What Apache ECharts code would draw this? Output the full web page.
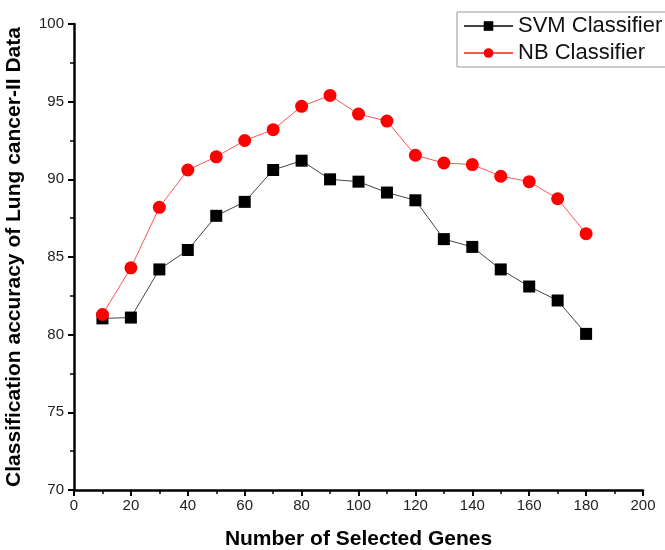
<!DOCTYPE html>
<html>
<head>
<meta charset="utf-8">
<script src="https://cdn.jsdelivr.net/npm/echarts@6/dist/echarts.min.js"></script>
<style>html,body{margin:0;padding:0;background:#fff}#c{width:665px;height:550px}</style>
</head>
<body>
<div id="c"></div>
<script>
const genes = [10,20,30,40,50,60,70,80,90,100,110,120,130,140,150,160,170,180];
const svmAcc = [81.05,81.1,84.2,85.45,87.65,88.55,90.6,91.2,90.0,89.85,89.15,88.65,86.15,85.65,84.2,83.1,82.2,80.05];
const nbAcc = [81.3,84.3,88.2,90.6,91.45,92.5,93.2,94.7,95.4,94.2,93.75,91.55,91.05,90.95,90.2,89.85,88.75,86.5];
const xTitle = 'Number of Selected Genes';
const yTitle = 'Classification accuracy of Lung cancer-II Data';

const FONT = 'Arial, Liberation Sans, sans-serif';
const chart = echarts.init(document.getElementById('c'));
const axisCommon = {
  axisLine: {show: true, onZero: false, lineStyle: {color: '#000', width: 2.5}},
  axisTick: {show: true, inside: false, length: 6, lineStyle: {color: '#000', width: 2}},
  minorTick: {show: true, splitNumber: 2, length: 4, lineStyle: {color: '#000', width: 1.5}},
  splitLine: {show: false},
  axisLabel: {color: '#222', fontSize: 15, fontFamily: FONT},
  nameTextStyle: {color: '#000', fontSize: 21, fontWeight: 'bold', fontFamily: FONT}
};
chart.setOption({
  animation: false,
  backgroundColor: '#fff',
  grid: {left: 74, right: 22, top: 24, bottom: 60, containLabel: false, outerBoundsMode: 'none'},
  legend: {
    orient: 'vertical', left: 457, top: 12,
    itemWidth: 49, itemHeight: 12, itemGap: 5,
    padding: [3, 40, 3, 6],
    borderColor: '#999', borderWidth: 1,
    textStyle: {fontSize: 22, color: '#111', fontFamily: FONT},
    data: ['SVM Classifier', 'NB Classifier']
  },
  xAxis: Object.assign({}, axisCommon, {
    type: 'value', min: 0, max: 200, interval: 20,
    name: xTitle, nameLocation: 'middle', nameGap: 39,
    axisLabel: Object.assign({}, axisCommon.axisLabel, {margin: 8})
  }),
  yAxis: Object.assign({}, axisCommon, {
    type: 'value', min: 70, max: 100, interval: 5,
    name: yTitle, nameLocation: 'middle', nameGap: 49,
    axisLabel: Object.assign({}, axisCommon.axisLabel, {margin: 10})
  }),
  series: [
    {
      name: 'SVM Classifier', type: 'line',
      data: genes.map((g, i) => [g, svmAcc[i]]),
      symbol: 'rect', symbolSize: 12,
      itemStyle: {color: '#000'},
      lineStyle: {color: '#444', width: 1}
    },
    {
      name: 'NB Classifier', type: 'line',
      data: genes.map((g, i) => [g, nbAcc[i]]),
      symbol: 'circle', symbolSize: 13,
      itemStyle: {color: '#ff0000'},
      lineStyle: {color: '#f55', width: 1}
    }
  ]
});
</script>
</body>
</html>
